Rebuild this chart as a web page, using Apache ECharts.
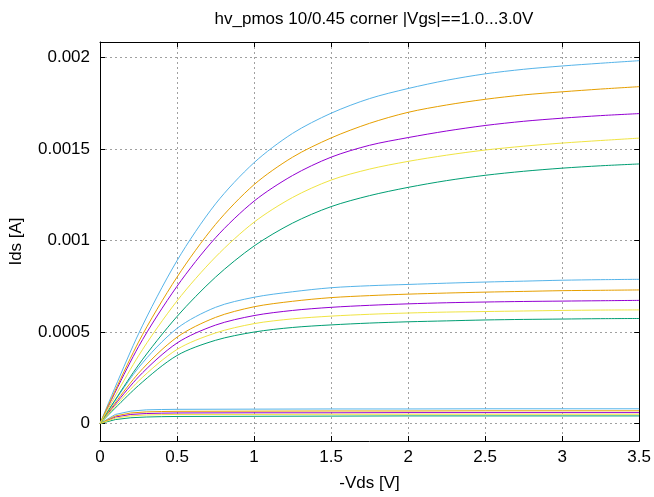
<!DOCTYPE html>
<html>
<head>
<meta charset="utf-8">
<script src="https://cdn.jsdelivr.net/npm/echarts@6/dist/echarts.min.js"></script>
<style>html,body{margin:0;padding:0;background:#fff}#c{width:654px;height:497px}</style>
</head>
<body>
<div id="c"></div>
<script>
// -Vds sample points [V]
const vds = [0,0.25,0.5,0.75,1.0,1.25,1.5,1.75,2.0,2.25,2.5,2.75,3.0,3.25,3.5];
const vdsLow = [0,0.1,0.2,0.3,0.4,0.5,1.0,1.5,2.0,2.5,3.0,3.5];
// Ids values in mA, per |Vgs| and corner (colour order: purple, green, blue, orange, yellow)
const vgs1_purple = [0,0.036,0.050,0.055,0.057,0.058,0.059,0.059,0.060,0.060,0.060,0.060];
const vgs1_green  = [0,0.022,0.032,0.036,0.038,0.039,0.040,0.041,0.042,0.042,0.042,0.042];
const vgs1_blue   = [0,0.050,0.068,0.075,0.077,0.078,0.079,0.080,0.080,0.081,0.081,0.081];
const vgs1_orange = [0,0.042,0.058,0.064,0.066,0.067,0.068,0.069,0.069,0.070,0.070,0.070];
const vgs1_yellow = [0,0.030,0.042,0.047,0.049,0.050,0.050,0.051,0.051,0.051,0.051,0.051];

const vgs2_purple = [0,0.255,0.44,0.538,0.59,0.618,0.635,0.646,0.654,0.66,0.664,0.667,0.669,0.671,0.673];
const vgs2_green  = [0,0.208,0.372,0.455,0.50,0.525,0.539,0.549,0.556,0.561,0.566,0.569,0.571,0.573,0.574];
const vgs2_blue   = [0,0.305,0.52,0.635,0.69,0.72,0.742,0.753,0.760,0.767,0.773,0.778,0.783,0.786,0.788];
const vgs2_orange = [0,0.275,0.472,0.58,0.638,0.668,0.688,0.699,0.707,0.713,0.718,0.722,0.726,0.728,0.730];
const vgs2_yellow = [0,0.232,0.405,0.495,0.546,0.572,0.587,0.597,0.604,0.609,0.612,0.615,0.618,0.620,0.621];

const vgs3_purple = [0,0.42,0.75,1.015,1.215,1.355,1.455,1.52,1.562,1.598,1.628,1.651,1.668,1.682,1.693];
const vgs3_green  = [0,0.32,0.585,0.80,0.97,1.095,1.185,1.245,1.29,1.327,1.356,1.378,1.395,1.408,1.418];
const vgs3_blue   = [0,0.49,0.89,1.20,1.425,1.585,1.695,1.775,1.83,1.875,1.91,1.935,1.953,1.968,1.982];
const vgs3_orange = [0,0.445,0.80,1.088,1.305,1.455,1.56,1.64,1.70,1.74,1.771,1.795,1.812,1.827,1.840];
const vgs3_yellow = [0,0.37,0.67,0.91,1.10,1.235,1.33,1.39,1.432,1.466,1.494,1.515,1.532,1.546,1.559];

const yTicks = [0, 0.0005, 0.001, 0.0015, 0.002];
const yTickLabels = ['0', '0.0005', '0.001', '0.0015', '0.002'];
const xTickLabels = ['0','0.5','1','1.5','2','2.5','3','3.5'];

const colors = ['#9400d3', '#009e73', '#56b4e9', '#e69f00', '#f0e442'];
const groups = [
  { x: vdsLow, curves: [vgs1_purple, vgs1_green, vgs1_blue, vgs1_orange, vgs1_yellow], smooth: false },
  { x: vds, curves: [vgs2_purple, vgs2_green, vgs2_blue, vgs2_orange, vgs2_yellow], smooth: 0.3 },
  { x: vds, curves: [vgs3_purple, vgs3_green, vgs3_blue, vgs3_orange, vgs3_yellow], smooth: 0.3 }
];

const FONT = 'Liberation Sans, Arial, sans-serif';
const series = [];
groups.forEach((g, gi) => {
  g.curves.forEach((arr, ci) => {
    series.push({
      type: 'line',
      name: 'Vgs' + (gi + 1) + '_' + ci,
      data: g.x.map((x, i) => [x, arr[i] * 1e-3]),
      showSymbol: false,
      smooth: g.smooth,
      lineStyle: { color: colors[ci], width: 1 },
      itemStyle: { color: colors[ci] },
      silent: true
    });
  });
});

const gridLine = { show: true, lineStyle: { color: '#a0a0a0', type: [2, 3], width: 1 } };
const tickStyle = { show: true, inside: true, length: 5, lineStyle: { color: '#000' } };
const lineStyleAx = { show: true, onZero: false, lineStyle: { color: '#000', width: 1 } };

const chart = echarts.init(document.getElementById('c'), null, { renderer: 'canvas' });
chart.setOption({
  animation: false,
  backgroundColor: '#fff',
  title: {
    text: 'hv_pmos 10/0.45 corner |Vgs|==1.0...3.0V',
    left: 369, top: 6, textAlign: 'center',
    textStyle: { fontFamily: FONT, fontSize: 17, fontWeight: 'normal', color: '#000' }
  },
  grid: { left: 98, right: 14, top: 42, bottom: 53, containLabel: false },
  xAxis: [{
    type: 'value', min: 0, max: 3.5, interval: 0.5, position: 'bottom',
    name: '-Vds [V]', nameLocation: 'middle', nameGap: 34,
    nameTextStyle: { fontFamily: FONT, fontSize: 17, color: '#000' },
    axisLine: lineStyleAx, axisTick: tickStyle, splitLine: gridLine,
    axisLabel: { fontFamily: FONT, fontSize: 17, color: '#000', margin: 8,
      formatter: v => xTickLabels[Math.round(v / 0.5)] }
  }, {
    type: 'value', min: 0, max: 3.5, interval: 0.5, position: 'top',
    axisLine: lineStyleAx, axisTick: tickStyle, splitLine: { show: false },
    axisLabel: { show: false }
  }],
  yAxis: [{
    type: 'value', min: -0.000095, max: 0.002084, position: 'left',
    name: 'Ids [A]', nameLocation: 'middle', nameGap: 75, nameRotate: 90,
    nameTextStyle: { fontFamily: FONT, fontSize: 17, color: '#000' },
    axisLine: lineStyleAx,
    axisTick: Object.assign({}, tickStyle, { customValues: yTicks }),
    splitLine: gridLine,
    axisLabel: { fontFamily: FONT, fontSize: 17, color: '#000', margin: 10,
      customValues: yTicks,
      formatter: v => { const i = yTicks.findIndex(t => Math.abs(t - v) < 1e-9); return i >= 0 ? yTickLabels[i] : ''; } }
  }, {
    type: 'value', min: -0.000095, max: 0.002084, position: 'right',
    axisLine: lineStyleAx,
    axisTick: Object.assign({}, tickStyle, { customValues: yTicks }),
    splitLine: { show: false }, axisLabel: { show: false }
  }],
  series: series
});
</script>
</body>
</html>
